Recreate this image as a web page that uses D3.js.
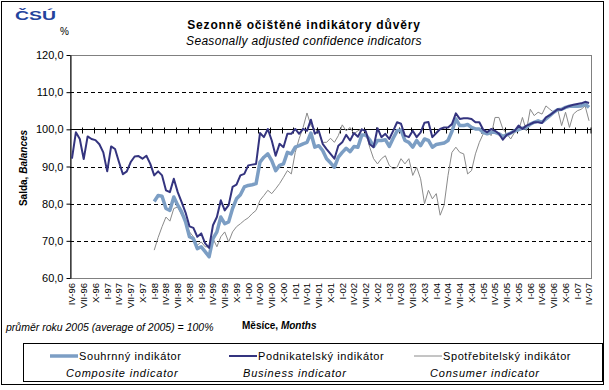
<!DOCTYPE html>
<html>
<head>
<meta charset="utf-8">
<script src="https://cdn.jsdelivr.net/npm/d3@7"></script>
<style>
  body { margin: 0; background: #fff; }
  svg text { font-family: "Liberation Sans", Arial, sans-serif; }
</style>
</head>
<body>
<svg id="chart" width="609" height="390"></svg>
<script>
// months Apr 1996 .. Apr 2007
const romans = ["I", "II", "III", "IV", "V", "VI", "VII", "VIII", "IX", "X", "XI", "XII"];
const months = [];
for (let i = 0; i < 133; i++) {
    const m = (3 + i) % 12;
    const yr = (96 + Math.floor((3 + i) / 12)) % 100;
    months.push(romans[m] + "-" + String(yr).padStart(2, "0"));
}

const yTicks = [60, 70, 80, 90, 100, 110, 120];

// business indicator, from IV-96
const business = [
    92.1, 99.2, 97.4, 92.0, 98.1, 97.4, 97.1, 96.0, 93.8, 88.7, 95.4, 94.7,
    91.2, 87.9, 88.7, 91.2, 92.7, 92.8, 92.1, 92.9, 90.7, 87.6, 88.7, 87.6,
    83.6, 83.1, 86.7, 83.1, 80.4, 77.6, 73.9, 73.5, 71.1, 72.0, 69.3, 68.1,
    74.2, 76.4, 80.9, 78.2, 79.6, 84.5, 85.1, 87.6, 88.0, 90.3, 90.5, 90.7,
    99.0, 97.9, 100.1, 97.0, 92.9, 96.1, 95.2, 98.8, 98.8, 100.1, 98.8, 100.1,
    99.6, 102.6, 98.8, 99.6, 96.1, 94.7, 93.4, 92.1, 95.6, 96.5, 98.5, 97.0,
    99.0, 98.0, 100.0, 99.5, 96.0, 95.2, 100.3, 97.9, 98.8, 97.4, 99.6, 101.9,
    101.5, 98.3, 97.9, 99.6, 97.9, 99.2, 101.8, 102.0, 97.9, 99.0, 100.1, 100.5,
    100.5, 101.4, 104.3, 102.8, 103.0, 103.0, 102.8, 101.9, 101.9, 99.9, 99.2, 100.1,
    99.6, 98.8, 97.2, 98.5, 99.0, 99.6, 101.0, 100.1, 101.0, 101.4, 101.9, 101.9,
    101.7, 103.2, 103.8, 104.6, 105.4, 105.3, 105.9, 106.3, 106.6, 106.8, 107.0, 107.4,
    107.1
];

// composite and consumer indicators, from I-98
const laterStart = "I-98";
const composite = [
    80.6, 82.2, 82.0, 78.7, 78.2, 81.8, 79.6, 77.8, 75.1, 71.1, 70.6, 67.9,
    68.4, 67.1, 65.7, 70.6, 72.4, 76.4, 74.6, 75.1, 78.7, 81.3, 82.4, 84.5,
    84.9, 85.1, 85.4, 91.2, 92.5, 93.4, 91.6, 88.9, 90.3, 90.7, 93.8, 93.4,
    95.2, 95.6, 96.1, 96.5, 99.0, 95.2, 95.6, 94.3, 92.1, 91.0, 89.8, 92.5,
    93.8, 94.9, 94.0, 95.4, 95.2, 98.5, 98.5, 97.2, 95.4, 97.0, 97.0, 97.2,
    95.4, 97.6, 99.6, 99.8, 97.0, 96.5, 95.2, 97.0, 95.6, 97.4, 97.0, 95.2,
    95.9, 96.1, 96.3, 97.0, 99.4, 102.8, 101.0, 101.0, 101.3, 100.5, 100.1, 100.1,
    99.2, 98.8, 99.2, 99.2, 98.8, 98.1, 98.5, 99.0, 99.6, 99.9, 100.3, 100.5,
    101.4, 101.9, 102.3, 101.9, 102.8, 103.7, 104.6, 105.3, 105.4, 105.9, 106.2, 106.3,
    106.2, 106.3, 106.8, 105.9
];
const consumer = [
    67.5, 70.9, 73.8, 76.4, 75.3, 78.7, 79.1, 76.9, 75.1, 72.4, 71.1, 68.8,
    69.7, 68.4, 68.4, 70.6, 68.4, 71.1, 72.4, 69.7, 72.4, 73.8, 74.6, 75.5,
    76.2, 77.3, 78.2, 80.9, 82.2, 83.6, 82.7, 84.0, 85.4, 87.1, 88.9, 88.0,
    93.8, 97.5, 100.5, 104.4, 101.0, 100.1, 99.2, 96.5, 96.5, 97.6, 96.5, 98.3,
    101.2, 99.6, 100.5, 98.8, 99.6, 100.1, 99.2, 95.2, 92.1, 90.7, 92.1, 92.9,
    90.3, 89.4, 89.8, 92.1, 90.7, 92.1, 87.6, 89.8, 86.7, 80.0, 83.6, 81.3,
    82.7, 76.9, 79.6, 87.6, 93.8, 95.2, 93.8, 93.4, 88.0, 88.9, 93.4, 96.5,
    98.8, 99.6, 98.3, 103.2, 103.2, 100.1, 98.8, 97.4, 99.2, 99.6, 103.2, 99.6,
    105.4, 103.7, 104.6, 104.1, 106.3, 105.4, 104.6, 105.4, 101.0, 104.6, 100.5, 104.1,
    105.0, 105.4, 106.3, 102.3
];

const seriesNames = ["Souhrnný indikátor", "Podnikatelský indikátor", "Spotřebitelský indikátor"];
const seriesNamesEn = ["Composite indicator", "Business indicator", "Consumer indicator"];

const svg = d3.select("#chart");
const plot = { left: 70, right: 591, top: 55, bottom: 278 };

// outer frame
svg.append("rect")
    .attr("x", 1.5).attr("y", 1.5)
    .attr("width", 602).attr("height", 383)
    .attr("fill", "#fff").attr("stroke", "#000");

const x = d3.scaleBand().domain(months).range([plot.left, plot.right]);
const y = d3.scaleLinear().domain([60, 120]).range([plot.bottom, plot.top]);
const cx = m => x(m) + x.bandwidth() / 2;

// plot area border (gray)
svg.append("rect")
    .attr("x", plot.left + 0.5).attr("y", plot.top + 0.5)
    .attr("width", plot.right - plot.left).attr("height", plot.bottom - plot.top)
    .attr("fill", "none").attr("stroke", "#808080");

// dashed gridlines
svg.append("g").selectAll("line")
    .data(yTicks.filter(v => v > 60 && v < 120 && v !== 100))
    .join("line")
    .attr("x1", plot.left).attr("x2", plot.right)
    .attr("y1", d => Math.round(y(d)) + 0.5).attr("y2", d => Math.round(y(d)) + 0.5)
    .attr("stroke", "#000").attr("stroke-dasharray", "4,3");

// y axis
const fmt = d => d3.format(".1f")(d).replace(".", ",");
const yAxis = svg.append("g")
    .attr("transform", `translate(${plot.left + 0.5},0)`)
    .call(d3.axisLeft(y).tickValues(yTicks).tickFormat(fmt).tickSize(4).tickSizeOuter(0));
yAxis.select(".domain").attr("stroke", "#000");
yAxis.selectAll("text").attr("font-size", 11).attr("fill", "#000").attr("x", -7);

// category axis crossing at 100
const x100 = Math.round(y(100)) + 0.5;
svg.append("line")
    .attr("x1", plot.left).attr("x2", plot.right)
    .attr("y1", x100).attr("y2", x100)
    .attr("stroke", "#000").attr("stroke-width", 1.2);
svg.append("g").selectAll("line")
    .data(months.filter((d, i) => i % 3 === 0).slice(1).concat(["end"]))
    .join("line")
    .attr("x1", d => d === "end" ? plot.right : Math.round(x(d)) + 0.5)
    .attr("x2", d => d === "end" ? plot.right : Math.round(x(d)) + 0.5)
    .attr("y1", x100 - 2).attr("y2", x100 + 4)
    .attr("stroke", "#000");

// month labels at the bottom
const xAxis = svg.append("g")
    .attr("transform", `translate(0,${plot.bottom})`)
    .call(d3.axisBottom(x).tickValues(months.filter((d, i) => i % 3 === 0)).tickSize(0));
xAxis.select(".domain").remove();
xAxis.selectAll("text")
    .attr("font-size", 9.5)
    .attr("fill", "#000")
    .attr("text-anchor", "end")
    .attr("transform", "rotate(-90)")
    .attr("x", -5).attr("y", 0).attr("dy", "0.35em");

// lines
const line = d3.line().defined(d => d.v != null).x(d => cx(d.m)).y(d => y(d.v));
const offset = months.indexOf(laterStart);
const toPts = (arr, start) => arr.map((v, i) => ({ m: months[start + i], v: v }));

const styles = [
    { data: toPts(composite, offset), color: "#7c9ec4", width: 3.5 },
    { data: toPts(business, 0), color: "#34347f", width: 2 },
    { data: toPts(consumer, offset), color: "#8a8a8a", width: 1 }
];

// draw consumer first, then composite, then business
[styles[2], styles[0], styles[1]].forEach(s => {
    svg.append("path")
        .datum(s.data)
        .attr("d", line)
        .attr("fill", "none")
        .attr("stroke", s.color)
        .attr("stroke-width", s.width)
        .attr("stroke-linejoin", "round");
});

// titles
svg.append("text")
    .attr("x", 304).attr("y", 29)
    .attr("text-anchor", "middle")
    .attr("font-size", 12).attr("font-weight", "bold")
    .attr("letter-spacing", 0.85)
    .text("Sezonně očištěné indikátory důvěry");
svg.append("text")
    .attr("x", 304).attr("y", 45)
    .attr("text-anchor", "middle")
    .attr("font-size", 12).attr("font-style", "italic")
    .attr("letter-spacing", 0.3)
    .text("Seasonally adjusted confidence indicators");

// logo
svg.append("text")
    .attr("x", 15).attr("y", 20)
    .attr("font-size", 13).attr("font-weight", "bold")
    .attr("font-family", "DejaVu Sans")
    .attr("fill", "#24439c")
    .attr("textLength", 41).attr("lengthAdjust", "spacingAndGlyphs")
    .text("ČSÚ");

svg.append("text")
    .attr("x", 60).attr("y", 35)
    .attr("font-size", 10)
    .text("%");

// y axis title
const yTitle = svg.append("text")
    .attr("transform", `translate(27,168) rotate(-90)`)
    .attr("text-anchor", "middle")
    .attr("font-size", 10).attr("font-weight", "bold");
yTitle.append("tspan").text("Salda, ");
yTitle.append("tspan").attr("font-style", "italic").text("Balances");

// x axis title
const xTitle = svg.append("text")
    .attr("x", 242).attr("y", 329)
    .attr("font-size", 10).attr("font-weight", "bold");
xTitle.append("tspan").text("Měsíce, ");
xTitle.append("tspan").attr("font-style", "italic").text("Months");

svg.append("text")
    .attr("x", 6).attr("y", 331)
    .attr("font-size", 10.5).attr("font-style", "italic")
    .text("průměr roku 2005 (average of 2005) = 100%");

// legend
svg.append("rect")
    .attr("x", 23.5).attr("y", 343.5)
    .attr("width", 579).attr("height", 38)
    .attr("fill", "#fff").attr("stroke", "#000");

const legendX = [50, 229, 414];
const legendEnX = [66, 243, 430];
const legendOrder = [styles[0], styles[1], styles[2]];
legendOrder.forEach((s, i) => {
    svg.append("line")
        .attr("x1", legendX[i]).attr("x2", legendX[i] + 28)
        .attr("y1", 356).attr("y2", 356)
        .attr("stroke", s.color).attr("stroke-width", s.width);
    svg.append("text")
        .attr("x", legendX[i] + 29).attr("y", 360)
        .attr("font-size", 11).attr("letter-spacing", 0.6)
        .text(seriesNames[i]);
    svg.append("text")
        .attr("x", legendEnX[i]).attr("y", 377)
        .attr("font-size", 11).attr("font-style", "italic")
        .attr("letter-spacing", 0.8)
        .text(seriesNamesEn[i]);
});
</script>
</body>
</html>
